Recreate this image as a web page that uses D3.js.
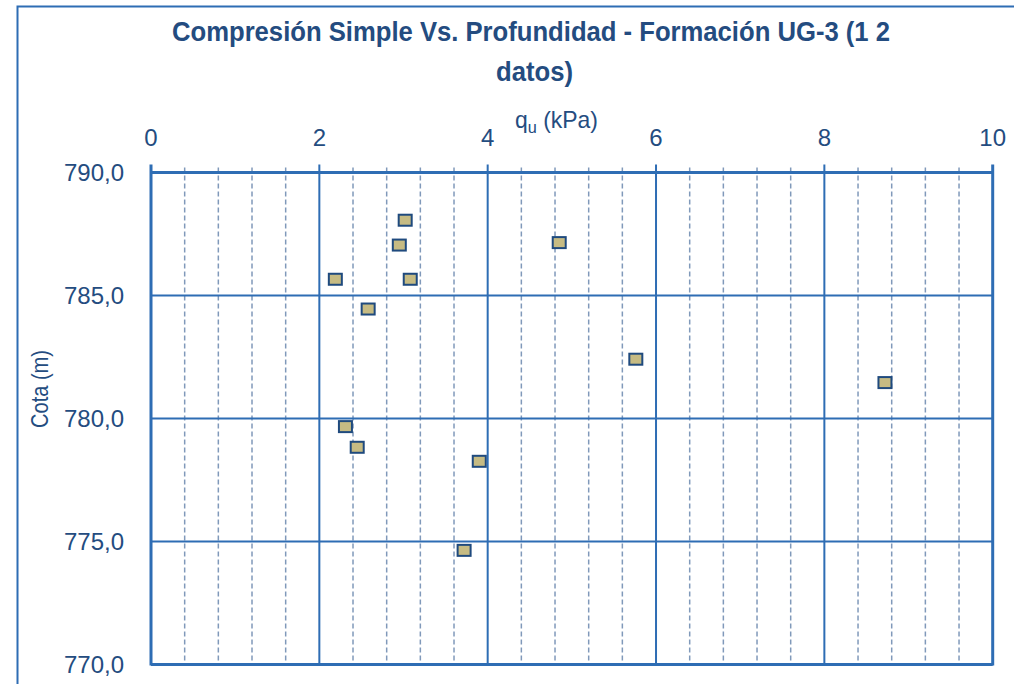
<!DOCTYPE html>
<html><head><meta charset="utf-8">
<script src="https://cdn.jsdelivr.net/npm/d3@7"></script>
<style>html,body{margin:0;padding:0;background:#fff;}svg{display:block;}</style>
</head><body>
<svg id="c" width="1014" height="684"></svg>
<script>
const titleLines = ["Compresión Simple Vs. Profundidad - Formación UG-3 (1 2", "datos)"];
const xLabel = "q";
const xLabelSub = "u";
const xLabelRest = " (kPa)";
const yLabel = "Cota (m)";
const qu   = [3.02, 2.95, 4.85, 2.19, 3.08, 2.58, 5.76, 8.72, 2.31, 2.45, 3.90, 3.72];
const cota = [788.06, 787.05, 787.15, 785.66, 785.66, 784.45, 782.41, 781.46, 779.67, 778.83, 778.26, 774.64];
const xTicks = [0, 2, 4, 6, 8, 10];
const xMinorTicks = d3.range(0, 10.001, 0.4).map(v => +v.toFixed(2));
const yTicks = [770, 775, 780, 785, 790];

const blue = "#2E6DB4", dark = "#244C80", dash = "#8099BA";
const svg = d3.select("#c");
const x = d3.scaleLinear().domain([0, 10]).range([151, 992.7]);
const y = d3.scaleLinear().domain([770, 790]).range([664.5, 172.5]);

// outer frame
svg.append("rect").attr("x", 17.5).attr("y", 6.5).attr("width", 1100).attr("height", 800)
  .attr("fill", "none").attr("stroke", blue).attr("stroke-width", 2);

// minor dashed verticals
svg.append("g").selectAll("line").data(xMinorTicks.filter(v => Math.abs(v/2 - Math.round(v/2)) > 1e-6))
  .join("line").attr("x1", d => x(d)).attr("x2", d => x(d)).attr("y1", y(790) - 5).attr("y2", y(770))
  .attr("stroke", dash).attr("stroke-width", 1.5).attr("stroke-dasharray", "5,3");

// major verticals
svg.append("g").selectAll("line").data(xTicks.slice(1, -1))
  .join("line").attr("x1", d => x(d)).attr("x2", d => x(d)).attr("y1", y(790) - 8).attr("y2", y(770))
  .attr("stroke", blue).attr("stroke-width", 2);

// major horizontals
svg.append("g").selectAll("line").data(yTicks.slice(1, -1))
  .join("line").attr("x1", x(0)).attr("x2", x(10)).attr("y1", d => y(d)).attr("y2", d => y(d))
  .attr("stroke", blue).attr("stroke-width", 2);

// plot border
svg.append("line").attr("x1", x(0)).attr("x2", x(0)).attr("y1", y(790) - 8).attr("y2", y(770) + 1).attr("stroke", blue).attr("stroke-width", 3);
svg.append("line").attr("x1", x(10)).attr("x2", x(10)).attr("y1", y(790) - 8).attr("y2", y(770) + 1).attr("stroke", blue).attr("stroke-width", 3);
svg.append("line").attr("x1", x(0)).attr("x2", x(10)).attr("y1", y(770)).attr("y2", y(770)).attr("stroke", blue).attr("stroke-width", 3);
svg.append("line").attr("x1", x(0)).attr("x2", x(10)).attr("y1", y(790)).attr("y2", y(790)).attr("stroke", blue).attr("stroke-width", 3);

// x tick labels (top)
const font = "'Liberation Sans', Arial, sans-serif";
svg.append("g").selectAll("text").data(xTicks).join("text")
  .attr("x", d => x(d)).attr("y", 146).attr("text-anchor", "middle")
  .attr("font-family", font).attr("font-size", 24).attr("fill", dark).text(d => d);

// y tick labels
svg.append("g").selectAll("text").data(yTicks).join("text")
  .attr("x", 124).attr("y", d => y(d) + 8.5).attr("text-anchor", "end")
  .attr("font-family", font).attr("font-size", 24).attr("fill", dark)
  .text(d => d3.format(".1f")(d).replace(".", ","));

// axis titles
const xl = svg.append("text").attr("x", 515).attr("y", 128).attr("text-anchor", "start")
  .attr("font-family", font).attr("font-size", 24).attr("fill", dark)
  .attr("textLength", 83).attr("lengthAdjust", "spacingAndGlyphs");
xl.append("tspan").text(xLabel);
xl.append("tspan").attr("font-size", 17).attr("dy", 5).text(xLabelSub);
xl.append("tspan").attr("dy", -5).text(xLabelRest);

svg.append("text").attr("transform", "translate(48,389) rotate(-90)").attr("text-anchor", "middle")
  .attr("font-family", font).attr("font-size", 24).attr("fill", dark)
  .attr("textLength", 78).attr("lengthAdjust", "spacingAndGlyphs").text(yLabel);

// title
const tl = [ {t: titleLines[0], cx: 531, y: 41, w: 718}, {t: titleLines[1], cx: 534.5, y: 81, w: 77} ];
svg.append("g").selectAll("text").data(tl).join("text")
  .attr("x", d => d.cx).attr("y", d => d.y).attr("text-anchor", "middle")
  .attr("font-family", font).attr("font-weight", "bold").attr("font-size", 28)
  .attr("fill", dark).attr("textLength", d => d.w).attr("lengthAdjust", "spacingAndGlyphs")
  .text(d => d.t);

// markers
const pts = qu.map((v, i) => ({q: v, c: cota[i]}));
svg.append("g").selectAll("rect").data(pts).join("rect")
  .attr("x", d => x(d.q) - 6.5).attr("y", d => y(d.c) - 5.5)
  .attr("width", 13).attr("height", 11)
  .attr("fill", "#C6BB83").attr("stroke", "#1F4A7E").attr("stroke-width", 2);
</script>
</body></html>
